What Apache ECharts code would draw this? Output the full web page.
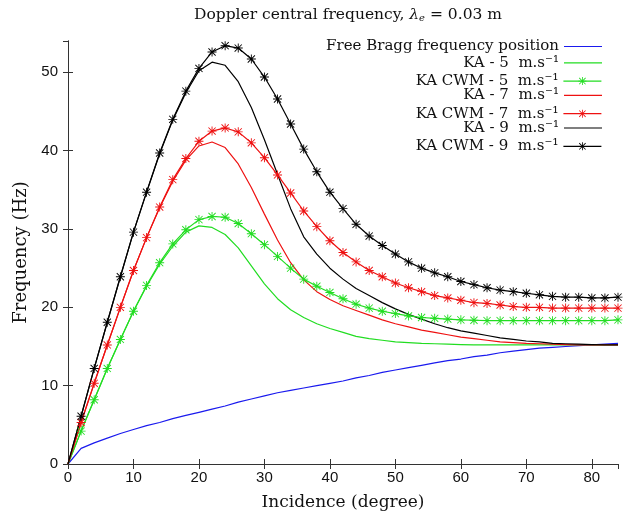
<!DOCTYPE html>
<html>
<head>
<meta charset="utf-8">
<script src="https://cdn.jsdelivr.net/npm/echarts@6/dist/echarts.min.js"></script>
<style>html,body{margin:0;padding:0;background:#fff}#c{width:627px;height:520px}</style>
</head>
<body>
<div id="c"></div>
<script>
// ---- data ----
const incidence = [0,2,4,6,8,10,12,14,16,18,20,22,24,26,28,30,32,34,36,38,40,42,44,46,48,50,52,54,56,58,60,62,64,66,68,70,72,74,76,78,80,82,84];
const bragg = [0,2.0,2.7,3.3,3.9,4.4,4.9,5.3,5.8,6.2,6.6,7.0,7.4,7.9,8.3,8.7,9.1,9.4,9.7,10.0,10.3,10.6,11.0,11.3,11.7,12.0,12.3,12.6,12.9,13.2,13.4,13.7,13.9,14.2,14.4,14.6,14.8,14.9,15.0,15.1,15.2,15.3,15.4];
const ka5 = [0,4.2,8.2,12.2,15.9,19.5,22.7,25.5,27.8,29.6,30.4,30.2,29.3,27.6,25.3,23.0,21.1,19.7,18.7,17.9,17.3,16.8,16.3,16.0,15.8,15.6,15.5,15.4,15.35,15.3,15.25,15.2,15.2,15.2,15.2,15.2,15.2,15.2,15.2,15.2,15.2,15.2,15.2];
const cwm5 = [0,4.2,8.2,12.2,15.9,19.5,22.8,25.7,28.1,29.9,31.2,31.6,31.5,30.7,29.4,28.0,26.5,25.0,23.6,22.7,21.9,21.1,20.4,19.9,19.5,19.2,18.9,18.7,18.6,18.5,18.4,18.35,18.3,18.3,18.3,18.3,18.3,18.3,18.3,18.3,18.3,18.3,18.4];
const ka7 = [0,5.3,10.3,15.2,20.0,24.7,28.9,32.7,36.1,38.8,40.6,41.1,40.4,38.3,35.3,31.9,28.6,25.7,23.5,22.0,21.0,20.2,19.6,19.0,18.4,17.9,17.5,17.1,16.8,16.5,16.2,16.0,15.8,15.6,15.5,15.4,15.35,15.3,15.25,15.2,15.2,15.2,15.2];
const cwm7 = [0,5.3,10.3,15.2,20.0,24.7,28.9,32.8,36.3,39.0,41.2,42.5,42.9,42.4,41.0,39.1,36.9,34.6,32.3,30.3,28.5,27.0,25.8,24.7,23.9,23.1,22.5,22.0,21.5,21.2,20.9,20.6,20.5,20.3,20.1,20.0,20.0,19.9,19.9,19.9,19.9,19.9,19.9];
const ka9 = [0,6.1,12.2,18.1,23.9,29.6,34.7,39.6,43.9,47.4,50.2,51.3,50.9,48.8,45.5,41.4,37.0,32.6,29.0,26.8,25.0,23.6,22.4,21.5,20.6,19.8,19.1,18.5,17.9,17.4,17.0,16.7,16.4,16.1,15.9,15.7,15.6,15.4,15.35,15.3,15.25,15.2,15.2];
const cwm9 = [0,6.1,12.2,18.1,23.9,29.6,34.7,39.7,44.0,47.6,50.5,52.6,53.4,53.1,51.7,49.4,46.6,43.4,40.2,37.3,34.7,32.6,30.6,29.1,27.9,26.8,25.8,25.0,24.4,23.9,23.3,22.9,22.5,22.2,22.0,21.8,21.6,21.4,21.3,21.3,21.2,21.2,21.3];
const seriesNames = ['Free Bragg frequency position','KA - 5  m.s\u207B\u00B9','KA CWM - 5  m.s\u207B\u00B9','KA - 7  m.s\u207B\u00B9','KA CWM - 7  m.s\u207B\u00B9','KA - 9  m.s\u207B\u00B9','KA CWM - 9  m.s\u207B\u00B9'];
const xTicks = [0,10,20,30,40,50,60,70,80];
const yTicks = [0,10,20,30,40,50];

// ---- styling ----
const SERIF = 'DejaVu Serif';
const SANS = 'Liberation Sans';
const colors = ['#1a1aee','#22dd22','#22dd22','#ee1111','#ee1111','#000000','#000000'];
const STAR = 'path://M0 9L20 9L20 11L0 11Z M9 0L11 0L11 20L9 20Z M1.3 2.7L2.7 1.3L18.7 17.3L17.3 18.7Z M17.3 1.3L18.7 2.7L2.7 18.7L1.3 17.3Z';
const LINE_ICON = 'path://M0 0L38 0L38 1.2L0 1.2Z';
const allValues = [bragg, ka5, cwm5, ka7, cwm7, ka9, cwm9];
const withMarker = [false,false,true,false,true,false,true];

const series = allValues.map((vals, i) => ({
  name: seriesNames[i],
  type: 'line',
  data: vals.map((v, j) => (withMarker[i] && j === 0) ? {value:[incidence[j], v], symbol:'none'} : [incidence[j], v]),
  symbol: withMarker[i] ? STAR : 'none',
  symbolSize: 9,
  showSymbol: withMarker[i],
  lineStyle: {color: colors[i], width: 1.2},
  itemStyle: {color: colors[i]},
  z: withMarker[i] ? 3 : 2,
  clip: true
}));

const legends = seriesNames.map((n, i) => ({
  data: [withMarker[i] ? {name: n} : {name: n, icon: LINE_ICON}],
  right: 25,
  top: (withMarker[i] ? 41 : 39) + i * 16.3,
  align: 'right',
  orient: 'vertical',
  padding: 0,
  itemWidth: 38,
  itemHeight: withMarker[i] ? 10 : 14,
  selectedMode: false,
  lineStyle: {width: 1.2},
  textStyle: {fontFamily: SERIF, fontSize: 15, color: '#111'}
}));

const tickFmt = (list) => (v) => list.indexOf(v) >= 0 ? String(v) : '';

const option = {
  animation: false,
  backgroundColor: '#fff',
  title: {
    text: '{a|Doppler central frequency, }{i|\u03BB}{s|e}{a| = 0.03 m}',
    left: 343, textAlign: 'center', top: 2,
    textStyle: {
      fontWeight: 'normal',
      rich: {
        a: {fontFamily: SERIF, fontSize: 15.5, color: '#111', fontWeight: 'normal'},
        i: {fontFamily: SERIF, fontSize: 15.5, color: '#111', fontStyle: 'italic', fontWeight: 'normal'},
        s: {fontFamily: SERIF, fontSize: 10, color: '#111', fontStyle: 'italic', fontWeight: 'normal', padding: [6,0,0,0]}
      }
    }
  },
  legend: legends,
  grid: {left: 68, right: 9, top: 41, bottom: 56, containLabel: false},
  xAxis: [{
    type: 'value', min: 0, max: 84, interval: 10,
    name: 'Incidence (degree)', nameLocation: 'middle', nameGap: 30,
    nameTextStyle: {fontFamily: SERIF, fontSize: 17, color: '#111'},
    axisLine: {show: true, lineStyle: {color: '#333', width: 1}},
    axisTick: {show: true, inside: true, length: 5, lineStyle: {color: '#333'}},
    axisLabel: {fontFamily: SANS, fontSize: 15, color: '#111', margin: 6, formatter: tickFmt(xTicks), showMaxLabel: false},
    splitLine: {show: false}
  }, {
    type: 'value', min: 0, max: 84, interval: 10, position: 'top',
    axisLine: {show: true, lineStyle: {color: '#333', width: 1}},
    axisTick: {show: true, inside: true, length: 5, lineStyle: {color: '#333'}},
    axisLabel: {show: false}, splitLine: {show: false}
  }],
  yAxis: [{
    type: 'value', min: 0, max: 54, interval: 10,
    name: 'Frequency (Hz)', nameLocation: 'middle', nameGap: 33,
    nameTextStyle: {fontFamily: SERIF, fontSize: 18, color: '#111'},
    axisLine: {show: true, lineStyle: {color: '#333', width: 1}},
    axisTick: {show: true, inside: true, length: 5, lineStyle: {color: '#333'}},
    axisLabel: {fontFamily: SANS, fontSize: 15, color: '#111', margin: 10, formatter: tickFmt(yTicks), showMaxLabel: false},
    splitLine: {show: false}
  }, {
    type: 'value', min: 0, max: 54, interval: 10, position: 'right',
    axisLine: {show: true, lineStyle: {color: '#333', width: 1}},
    axisTick: {show: true, inside: true, length: 5, lineStyle: {color: '#333'}},
    axisLabel: {show: false}, splitLine: {show: false}
  }],
  series: series
};

const chart = echarts.init(document.getElementById('c'), null, {renderer: 'canvas'});
chart.setOption(option);
</script>
</body>
</html>
